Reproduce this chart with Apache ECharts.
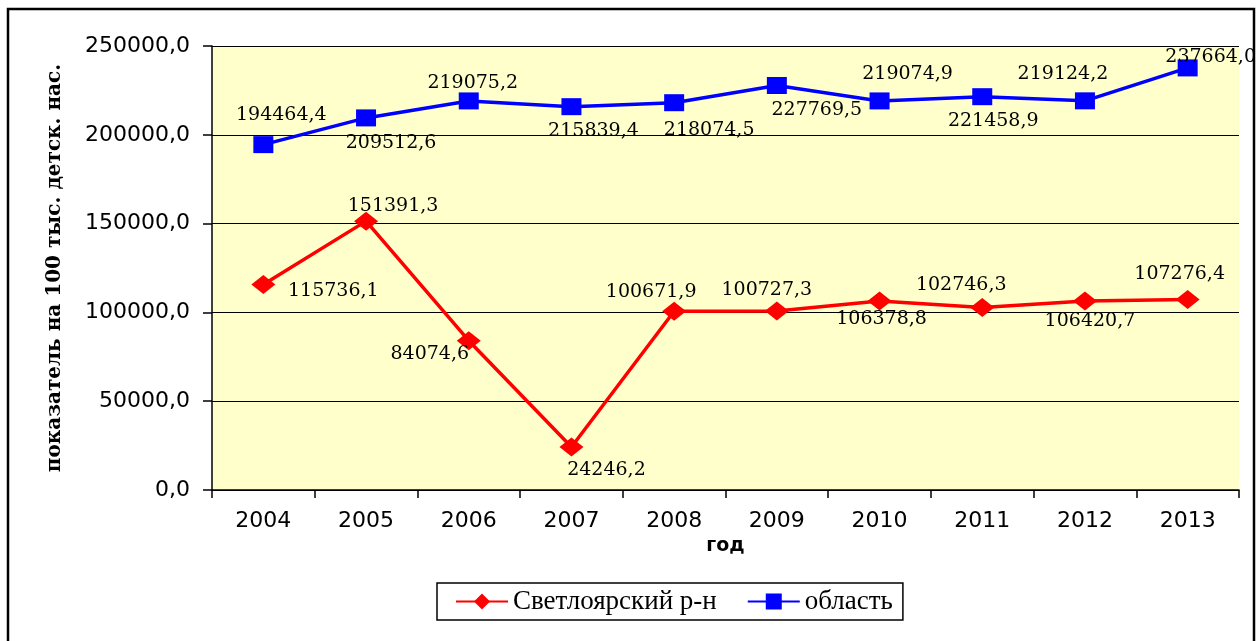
<!DOCTYPE html>
<html>
<head>
<meta charset="utf-8">
<script src="https://cdn.jsdelivr.net/npm/echarts@6/dist/echarts.min.js"></script>
<style>
  html, body { margin: 0; padding: 0; background: #fff; }
  #chart { width: 1259px; height: 641px; }
</style>
</head>
<body>
<div id="chart"></div>
<script>
// данные
const years = ['2004', '2005', '2006', '2007', '2008', '2009', '2010', '2011', '2012', '2013'];
const svetloyarsk = [115736.1, 151391.3, 84074.6, 24246.2, 100671.9, 100727.3, 106378.8, 102746.3, 106420.7, 107276.4];
const oblast = [194464.4, 209512.6, 219075.2, 215839.4, 218074.5, 227769.5, 219074.9, 221458.9, 219124.2, 237664.0];
const yTicks = [0, 50000, 100000, 150000, 200000, 250000];

// where each value label sits relative to its marker
const redLabelShift = [[70, 7], [27, -15], [-39, 13], [35, 23], [-23, -19], [-10, -21], [2, 18], [-21, -22], [5, 20], [-8, -25]];
const blueLabelShift = [[18, -30], [25, 25], [4, -18], [22, 24], [35, 27], [40, 25], [28, -27], [11, 24], [-22, -27], [23, -11]];

const fmt = v => Number(v).toFixed(1).replace('.', ',');

function withLabels(values, shifts) {
  return values.map((v, i) => ({
    value: v,
    label: { offset: shifts[i] }
  }));
}

const chart = echarts.init(document.getElementById('chart'));

const option = {
  animation: false,
  backgroundColor: '#fff',
  graphic: [{
    type: 'rect',
    shape: { x: 8, y: 9, width: 1246, height: 640 },
    style: { fill: 'none', stroke: '#000', lineWidth: 2.5 },
    silent: true
  }],
  grid: {
    left: 212, right: 20, top: 46, bottom: 151,
    show: true,
    backgroundColor: '#FFFFCC',
    borderWidth: 0,
    outerBoundsMode: 'none'
  },
  legend: {
    left: 437, top: 583,
    padding: [5, 10, 5, 18],
    borderColor: '#000',
    borderWidth: 1.5,
    itemGap: 30,
    itemWidth: 52,
    itemHeight: 20,
    textStyle: { fontFamily: 'Liberation Serif', fontSize: 27, color: '#000' },
    data: ['Светлоярский р-н', 'область']
  },
  xAxis: {
    type: 'category',
    data: years,
    boundaryGap: true,
    name: 'год',
    nameLocation: 'middle',
    nameGap: 46,
    nameTextStyle: { fontFamily: 'DejaVu Sans', fontWeight: 'bold', fontSize: 19, color: '#000' },
    axisLine: { lineStyle: { color: '#000', width: 1.5 } },
    axisTick: { show: true, interval: 0, length: 8, lineStyle: { color: '#000', width: 1.5 } },
    axisLabel: { margin: 20, fontFamily: 'DejaVu Sans', fontSize: 22, color: '#000', interval: 0 },
    splitLine: { show: false }
  },
  yAxis: {
    type: 'value',
    min: yTicks[0],
    max: yTicks[yTicks.length - 1],
    interval: yTicks[1] - yTicks[0],
    name: 'показатель на 100 тыс. детск. нас.',
    nameLocation: 'middle',
    nameGap: 147,
    nameTextStyle: { fontFamily: 'DejaVu Serif', fontWeight: 'bold', fontSize: 20, color: '#000' },
    axisLine: { show: true, lineStyle: { color: '#000', width: 1.5 } },
    axisTick: { show: true, length: 9, lineStyle: { color: '#000', width: 1.5 } },
    axisLabel: { margin: 22, fontFamily: 'DejaVu Sans', fontSize: 22, color: '#000', formatter: fmt },
    splitLine: { show: true, lineStyle: { color: '#000', width: 1.2 } }
  },
  series: [
    {
      name: 'Светлоярский р-н',
      type: 'line',
      data: withLabels(svetloyarsk, redLabelShift),
      symbol: 'diamond',
      symbolSize: [24, 19],
      color: '#FF0000',
      lineStyle: { color: '#FF0000', width: 3.5 },
      itemStyle: { color: '#FF0000' },
      label: {
        show: true, position: 'inside', formatter: p => fmt(p.value),
        fontFamily: 'DejaVu Serif', fontSize: 19, color: '#000'
      }
    },
    {
      name: 'область',
      type: 'line',
      data: withLabels(oblast, blueLabelShift),
      symbol: 'rect',
      symbolSize: [20, 17],
      color: '#0000FF',
      lineStyle: { color: '#0000FF', width: 3.5 },
      itemStyle: { color: '#0000FF' },
      label: {
        show: true, position: 'inside', formatter: p => fmt(p.value),
        fontFamily: 'DejaVu Serif', fontSize: 19, color: '#000'
      }
    }
  ]
};

chart.setOption(option);
</script>
</body>
</html>
